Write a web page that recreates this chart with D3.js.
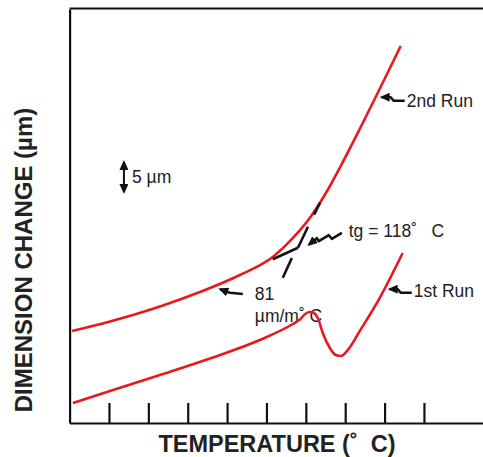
<!DOCTYPE html>
<html><head><meta charset="utf-8">
<script src="https://cdn.jsdelivr.net/npm/d3@7"></script>
<style>
body{margin:0;background:#fff}
svg{display:block}
text{font-family:"Liberation Sans",Arial,sans-serif;fill:#222;white-space:pre}
</style>
</head><body><svg id="c" width="483" height="457"></svg>
<script>
// ---- data ----
const tickTemps = [20, 40, 60, 80, 100, 120, 140, 160, 180];
const run2Temp = [1.2, 20.5, 45.9, 66.2, 86.5, 103.2, 114.4, 122.0, 129.6, 137.2, 147.4, 157.5, 168.2];
const run2Dim  = [15.33, 16.92, 19.42, 21.83, 24.67, 27.67, 31.17, 34.17, 38.0, 42.5, 49.0, 55.67, 62.83];
const run1Temp = [1.7, 20.5, 45.9, 71.3, 96.6, 113.4, 117.0, 120.0, 122.0, 124.1, 126.1, 128.6, 132.2, 135.2, 137.8, 141.3, 147.4, 157.5, 169.2];
const run1Dim  = [3.33, 5.33, 8.0, 10.75, 13.83, 16.5, 17.25, 18.25, 18.5, 18.33, 17.5, 15.0, 12.5, 11.33, 11.17, 12.17, 15.33, 20.83, 28.33];
// tangent construction (temp, dim)
const shallowTangent = [[103.2, 27.3], [116.0, 29.2]];
const steepTangentSegs = [
  [[108.3, 24.2], [112.9, 27.5]],
  [[116.0, 29.2], [121.1, 32.7]],
  [[124.2, 34.7], [127.2, 36.7]]
];
const tgValue = 118, slopeValue = 81, scaleBar = 5;

const svg = d3.select("#c");
const x = d3.scaleLinear().domain([0, 210]).range([69.6, 483]);
const y = d3.scaleLinear().domain([0, 69]).range([423, 9]);
const red = "#e8191e";

// markers
const defs = svg.append("defs");
defs.append("marker").attr("id", "ah").attr("markerUnits", "userSpaceOnUse")
  .attr("markerWidth", 10).attr("markerHeight", 9).attr("refX", 8).attr("refY", 4.5)
  .attr("orient", "auto-start-reverse")
  .append("path").attr("d", "M0,0 L10,4.5 L0,9 Z").attr("fill", "#111");

// frame
svg.append("line").attr("x1", x(0)).attr("x2", 483).attr("y1", y(69) - 0.5).attr("y2", y(69) - 0.5)
  .attr("stroke", "#111").attr("stroke-width", 2.2);
const ax = svg.append("g").attr("transform", `translate(0,${y(0)})`)
  .call(d3.axisTop(x).tickValues(tickTemps).tickSize(20).tickSizeOuter(0).tickFormat(""));
ax.selectAll("path,line").attr("stroke", "#111").attr("stroke-width", 2.2);
const ay = svg.append("g").attr("transform", `translate(${x(0)},0)`)
  .call(d3.axisLeft(y).tickValues([]).tickSizeOuter(0));
ay.selectAll("path").attr("stroke", "#111").attr("stroke-width", 2.2);

// labels (drawn under the curves)
const fs = 17.5;
svg.append("text").attr("x", x(94.1)).attr("y", y(20.5)).attr("font-size", fs).text(String(slopeValue));
svg.append("text").attr("x", x(94.1)).attr("y", y(16.8)).attr("font-size", fs).text("µm/m˚ C");
svg.append("text").attr("x", x(141.8)).attr("y", y(31.0)).attr("font-size", fs).text(`tg = ${tgValue}˚   C`);
svg.append("text").attr("x", x(171.3)).attr("y", y(52.7)).attr("font-size", fs).text("2nd Run");
svg.append("text").attr("x", x(174.8)).attr("y", y(21.0)).attr("font-size", fs).text("1st Run");
svg.append("text").attr("x", x(31.7)).attr("y", y(40.0)).attr("font-size", fs).text(`${scaleBar} µm`);

// scale bar
svg.append("line").attr("x1", x(27.6)).attr("x2", x(27.6)).attr("y1", y(38.5)).attr("y2", y(38.5 + scaleBar))
  .attr("stroke", "#111").attr("stroke-width", 2)
  .attr("marker-start", "url(#ah)").attr("marker-end", "url(#ah)");

// curves
const line = d3.line().x(d => x(d[0])).y(d => y(d[1])).curve(d3.curveMonotoneX);
svg.append("path").datum(run2Temp.map((t, i) => [t, run2Dim[i]])).attr("d", line)
  .attr("fill", "none").attr("stroke", red).attr("stroke-width", 2.6);
svg.append("path").datum(run1Temp.map((t, i) => [t, run1Dim[i]])).attr("d", line)
  .attr("fill", "none").attr("stroke", red).attr("stroke-width", 2.6);

// tangents
const straight = d3.line().x(d => x(d[0])).y(d => y(d[1]));
svg.append("path").attr("d", straight(shallowTangent)).attr("stroke", "#111").attr("stroke-width", 2.6).attr("fill", "none");
steepTangentSegs.forEach(s => svg.append("path").attr("d", straight(s)).attr("stroke", "#111").attr("stroke-width", 2.6).attr("fill", "none"));

// pointer arrows
const arrows = [
  [[138.3, 31.7], [133.2, 30.7], [131.7, 31.3], [126.6, 30.3], [125.6, 30.8], [121.6, 29.7]],
  [[170.2, 53.7], [164.6, 53.7], [163.1, 54.3], [158.5, 54.3]],
  [[173.8, 21.7], [168.2, 21.7], [166.7, 22.3], [162.6, 22.3]],
  [[88.0, 21.5], [81.4, 21.7], [76.5, 22.3]]
];
arrows.forEach(a => svg.append("path").attr("d", straight(a)).attr("fill", "none")
  .attr("stroke", "#111").attr("stroke-width", 2.6).attr("stroke-linejoin", "round")
  .attr("marker-end", "url(#ah)"));

// axis titles
svg.append("text").attr("x", 277).attr("y", 452).attr("text-anchor", "middle")
  .attr("font-size", 23.5).attr("font-weight", "bold").attr("fill", "#111").text("TEMPERATURE (˚  C)");
svg.append("text").attr("transform", "translate(31.5,260) rotate(-90)").attr("text-anchor", "middle")
  .attr("font-size", 24).attr("font-weight", "bold").attr("fill", "#111").text("DIMENSION CHANGE (µm)");
</script></body></html>
